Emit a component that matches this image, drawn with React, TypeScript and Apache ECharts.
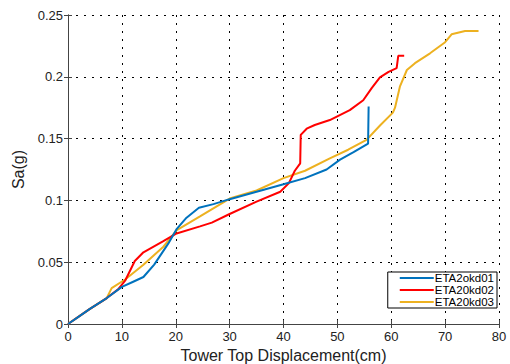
import React, { useEffect, useRef } from "react";
import * as echarts from "echarts";

const seriesNames = ["ETA2okd01", "ETA20kd02", "ETA20kd03"];
const seriesColors = ["#0072BD", "#FF0000", "#EDB120"];

const eta01: [number, number][] = [
  [0, 0], [2, 0.006], [4, 0.012], [7.2, 0.021], [10, 0.03], [12, 0.034], [14, 0.038],
  [16, 0.048], [18.6, 0.065], [20.2, 0.077], [22, 0.086], [24.3, 0.094], [27, 0.097],
  [30, 0.101], [35, 0.107], [40, 0.113], [44, 0.118], [48, 0.125], [50.5, 0.133],
  [53, 0.139], [55.7, 0.146], [55.8, 0.176],
];

const eta02: [number, number][] = [
  [0, 0], [4, 0.012], [7.2, 0.021], [9.3, 0.028], [10.6, 0.035], [12.4, 0.051],
  [14, 0.058], [17.7, 0.067], [20, 0.073], [24.5, 0.079], [26.7, 0.082], [30, 0.089],
  [35, 0.099], [39.4, 0.107], [41, 0.114], [42.1, 0.124], [43.1, 0.13], [43.2, 0.153],
  [44.3, 0.158], [45.8, 0.161], [48.6, 0.165], [52.3, 0.173], [54.8, 0.181],
  [56.4, 0.191], [57.9, 0.1996], [59.5, 0.204], [61, 0.207], [61.3, 0.217], [62.4, 0.217],
];

const eta03: [number, number][] = [
  [0, 0], [4, 0.012], [7.2, 0.021], [8.1, 0.029], [10.6, 0.036], [14, 0.048],
  [17.7, 0.0625], [20.2, 0.076], [24.5, 0.087], [30, 0.1015], [35, 0.108], [40, 0.118],
  [44, 0.124], [48.6, 0.134], [52, 0.141], [55.4, 0.149], [58, 0.161], [60.3, 0.171],
  [60.7, 0.175], [61.6, 0.192], [62.9, 0.2055], [64.4, 0.211], [67.2, 0.219], [70, 0.228],
  [71.2, 0.2344], [73.7, 0.237], [76.2, 0.237],
];

const xTicks = { min: 0, max: 80, interval: 10 };
const yTicks = { min: 0, max: 0.25, interval: 0.05 };

const FONT = "Liberation Sans";

export default function App() {
  const ref = useRef<HTMLDivElement>(null);
  useEffect(() => {
    if (!ref.current) return;
    const chart = echarts.init(ref.current, undefined, { renderer: "svg" });
    const gridLine = { show: true, lineStyle: { color: "#000", type: [2, 6] as any, width: 1 } };
    const axisLine = { show: true, lineStyle: { color: "#444", width: 1 } };
    const axisTick = { show: true, inside: true, length: 4, lineStyle: { color: "#444" } };
    const datas = [eta01, eta02, eta03];
    chart.setOption({
      animation: false,
      backgroundColor: "#fff",
      grid: { left: 68, right: 11, top: 15, bottom: 40, outerBoundsMode: "none", containLabel: false },
      legend: {
        orient: "vertical",
        right: 13,
        bottom: 56,
        data: seriesNames,
        icon: "rect",
        itemWidth: 34,
        itemHeight: 2,
        itemGap: 0,
        padding: [0, 3, 0, 12],
        borderColor: "#000",
        borderWidth: 1,
        borderRadius: 0,
        backgroundColor: "#fff",
        textStyle: { fontFamily: FONT, fontSize: 11.5, color: "#000", padding: [0, 0, 0, -4], lineHeight: 11.5 },
      },
      xAxis: [
        {
          type: "value",
          ...xTicks,
          name: "Tower Top Displacement(cm)",
          nameLocation: "middle",
          nameGap: 21,
          nameTextStyle: { fontFamily: FONT, fontSize: 16, color: "#222" },
          axisLine,
          axisTick,
          axisLabel: { fontFamily: FONT, fontSize: 13, color: "#222", margin: 6 },
          splitLine: gridLine,
        },
        {
          type: "value",
          position: "top",
          ...xTicks,
          axisLine,
          axisTick,
          axisLabel: { show: false },
          splitLine: { show: false },
        },
      ],
      yAxis: [
        {
          type: "value",
          ...yTicks,
          name: "Sa(g)",
          nameLocation: "middle",
          nameGap: 37,
          nameTextStyle: { fontFamily: FONT, fontSize: 16, color: "#222" },
          axisLine,
          axisTick,
          axisLabel: { fontFamily: FONT, fontSize: 13, color: "#222", margin: 5 },
          splitLine: gridLine,
        },
        {
          type: "value",
          position: "right",
          ...yTicks,
          axisLine,
          axisTick,
          axisLabel: { show: false },
          splitLine: { show: false },
        },
      ],
      series: datas.map((d, i) => ({
        name: seriesNames[i],
        type: "line",
        data: d,
        showSymbol: false,
        symbol: "none",
        color: seriesColors[i],
        lineStyle: { color: seriesColors[i], width: 2 },
        z: 3 + (2 - i),
      })),
    });
    return () => chart.dispose();
  }, []);
  return <div ref={ref} style={{ width: 510, height: 364, position: "absolute", left: 0, top: 0 }} />;
}
